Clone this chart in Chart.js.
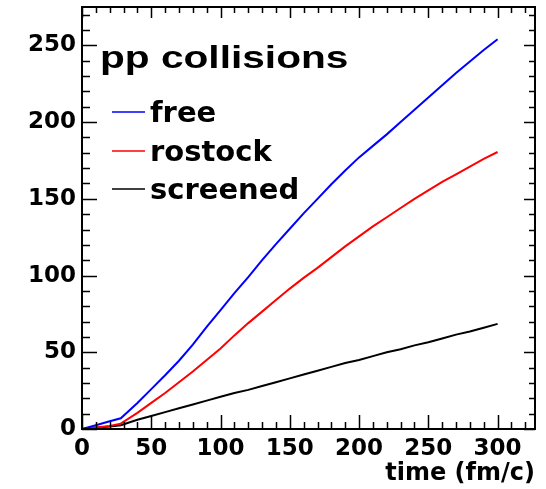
<!DOCTYPE html>
<html>
<head>
<meta charset="utf-8">
<title>pp collisions</title>
<script src="https://cdn.jsdelivr.net/npm/chart.js@4/dist/chart.umd.min.js"></script>
<style>
  html, body { margin: 0; padding: 0; background: #fff; }
  #wrap { width: 546px; height: 489px; }
</style>
</head>
<body>
<div id="wrap"><canvas id="collChart" width="546" height="489"></canvas></div>
<script>
// time axis (fm/c) and cumulative number of collisions per model
const timeFmc   = [0, 10, 20, 28, 40, 50, 60, 70, 80, 90, 100, 110, 120, 130, 140, 150, 160, 170, 180, 190, 200, 210, 220, 230, 240, 250, 260, 270, 280, 290, 300];
const freeColl  = [0, 2.5, 5, 7, 17, 26, 35, 44.5, 55, 66.5, 77.5, 88.5, 99, 110, 120.5, 130.5, 140.5, 150, 159.5, 168.5, 177, 184.5, 192, 200, 208, 216, 224, 232, 239.5, 247, 254];
const rostColl  = [0, 1, 2, 3.5, 10.5, 17, 23.5, 30.5, 37.5, 45, 52.5, 61, 69, 76.5, 84, 91.5, 98.5, 105, 112, 119, 125.5, 132, 138, 144, 150, 155.5, 161, 166, 171, 176, 180.5];
const scrnColl  = [0, 0.8, 1.6, 2.5, 6, 8.5, 11, 13.5, 16, 18.5, 21, 23.5, 25.5, 28, 30.5, 33, 35.5, 38, 40.5, 43, 45, 47.5, 50, 52, 54.5, 56.5, 59, 61.5, 63.5, 66, 68.5];

const seriesNames  = ['free', 'rostock', 'screened'];
const seriesColors = ['#0000ff', '#ff0000', '#000000'];
const seriesValues = [freeColl, rostColl, scrnColl];

const xTickStep = 50, yTickStep = 50, minorStep = 10;
const xMax = 327, yMax = 275;

const FONT = '"DejaVu Sans", sans-serif';

const toPoints = vals => vals.map((v, i) => ({ x: timeFmc[i], y: v }));

// frame, inward ticks on all four sides, title and legend box
const frameAndLegend = {
    id: 'frameAndLegend',
    afterDraw(chart) {
        const ctx = chart.ctx;
        const { left, right, top, bottom } = chart.chartArea;
        const xs = chart.scales.x, ys = chart.scales.y;
        ctx.save();
        ctx.strokeStyle = '#000';
        ctx.lineWidth = 2;
        ctx.strokeRect(left, top, right - left, bottom - top);

        ctx.lineWidth = 1.5;
        ctx.beginPath();
        for (let v = 0; v <= xMax; v += minorStep) {
            const px = Math.round(xs.getPixelForValue(v)) + 0.5;
            const major = v % xTickStep === 0;
            ctx.moveTo(px, bottom); ctx.lineTo(px, bottom - (major ? 14 : 7));
            ctx.moveTo(px, top); ctx.lineTo(px, top + (major ? 11 : 6));
        }
        for (let v = 0; v <= yMax; v += minorStep) {
            const py = Math.round(ys.getPixelForValue(v)) + 0.5;
            const major = v % yTickStep === 0;
            ctx.moveTo(left, py); ctx.lineTo(left + (major ? 15 : 8), py);
            ctx.moveTo(right, py); ctx.lineTo(right - (major ? 11 : 6), py);
        }
        ctx.stroke();

        // title, wide helvetica-style lettering
        ctx.fillStyle = '#000';
        ctx.textBaseline = 'alphabetic';
        ctx.textAlign = 'left';
        ctx.save();
        ctx.translate(100, 68);
        ctx.scale(1.27, 1);
        ctx.font = 'bold 32px "Liberation Sans", Arial, sans-serif';
        ctx.fillText('pp collisions', 0, 0);
        ctx.restore();

        // legend
        ctx.font = 'bold 29px ' + FONT;
        const rows = [112, 151, 189];
        seriesNames.forEach((name, i) => {
            ctx.strokeStyle = seriesColors[i];
            ctx.lineWidth = 1.5;
            ctx.beginPath();
            ctx.moveTo(112, rows[i]);
            ctx.lineTo(145, rows[i]);
            ctx.stroke();
            ctx.fillText(name, 150, rows[i] + 10);
        });
        ctx.restore();
    }
};

const ctx = document.getElementById('collChart').getContext('2d');
new Chart(ctx, {
    type: 'line',
    data: {
        datasets: seriesNames.map((name, i) => ({
            label: name,
            data: toPoints(seriesValues[i]),
            borderColor: seriesColors[i],
            borderWidth: 2,
            pointRadius: 0,
            tension: 0,
            fill: false
        }))
    },
    options: {
        responsive: false,
        animation: false,
        layout: { padding: { top: 7, right: 11, left: 0, bottom: 0 } },
        plugins: {
            legend: { display: false },
            tooltip: { enabled: false }
        },
        scales: {
            x: {
                type: 'linear',
                min: 0,
                max: xMax,
                afterFit: s => { s.height = 60; s.paddingLeft = 0; s.paddingRight = 0; },
                grid: { display: false, drawTicks: false },
                border: { display: false },
                ticks: {
                    stepSize: xTickStep,
                    includeBounds: false,
                    color: '#000',
                    padding: 6,
                    maxRotation: 0,
                    font: { family: FONT, size: 23, weight: 'bold' }
                },
                title: {
                    display: true,
                    text: 'time (fm/c)',
                    align: 'end',
                    color: '#000',
                    padding: { top: 0, bottom: 1 },
                    font: { family: FONT, size: 24, weight: 'bold' }
                }
            },
            y: {
                type: 'linear',
                min: 0,
                max: yMax,
                afterFit: s => { s.width = 82; s.paddingTop = 0; s.paddingBottom = 0; },
                grid: { display: false, drawTicks: false },
                border: { display: false },
                ticks: {
                    stepSize: yTickStep,
                    includeBounds: false,
                    color: '#000',
                    padding: 6,
                    font: { family: FONT, size: 23, weight: 'bold' }
                }
            }
        }
    },
    plugins: [frameAndLegend]
});
</script>
</body>
</html>
